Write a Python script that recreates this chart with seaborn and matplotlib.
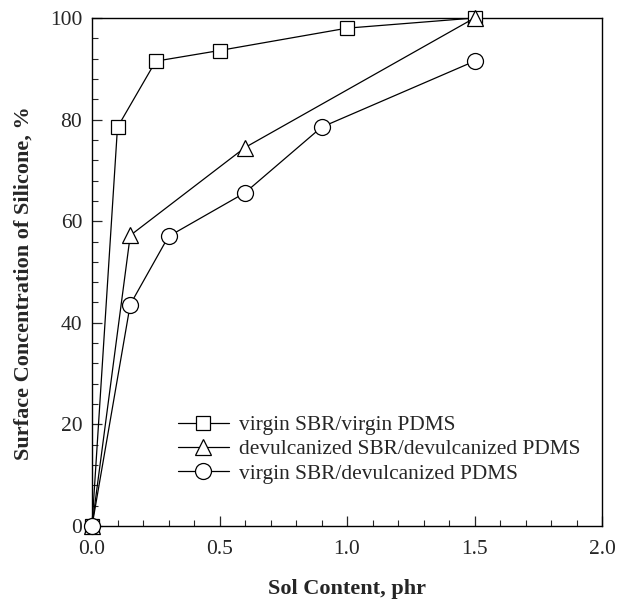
import numpy as np
import pandas as pd
import matplotlib
matplotlib.use("Agg")
import matplotlib.pyplot as plt
import seaborn as sns
from matplotlib.ticker import MultipleLocator

# data
sol_virgin = [0.0, 0.1, 0.25, 0.5, 1.0, 1.5]
conc_virgin = [0.0, 78.5, 91.5, 93.6, 98.0, 100.0]

sol_devul = [0.0, 0.15, 0.6, 1.5]
conc_devul = [0.0, 57.2, 74.5, 100.0]

sol_mixed = [0.0, 0.15, 0.3, 0.6, 0.9, 1.5]
conc_mixed = [0.0, 43.6, 57.0, 65.6, 78.5, 91.5]

labels = ["virgin SBR/virgin PDMS",
          "devulcanized SBR/devulcanized PDMS",
          "virgin SBR/devulcanized PDMS"]

sns.set_style("ticks")
plt.rcParams['font.family'] = ['Liberation Serif', 'DejaVu Serif']

fig, ax = plt.subplots(figsize=(6.17, 5.99), dpi=100)
fig.subplots_adjust(left=92/617, right=602/617, top=1-18/599, bottom=1-526/599)

series = [(sol_virgin, conc_virgin, 's', 9.5),
          (sol_devul, conc_devul, '^', 11),
          (sol_mixed, conc_mixed, 'o', 11.5)]
for (xs, ys, mk, ms), lab in zip(series, labels):
    df = pd.DataFrame({"sol": xs, "conc": ys})
    sns.lineplot(data=df, x="sol", y="conc", ax=ax, color="black", lw=0.9,
                 marker=mk, markersize=ms, markerfacecolor="white",
                 markeredgecolor="black", markeredgewidth=0.9,
                 label=lab, clip_on=False, zorder=3)

ax.set_xlim(0, 2.0)
ax.set_ylim(0, 100)
ax.xaxis.set_major_locator(MultipleLocator(0.5))
ax.xaxis.set_minor_locator(MultipleLocator(0.1))
ax.yaxis.set_major_locator(MultipleLocator(20))
ax.yaxis.set_minor_locator(MultipleLocator(4))
ax.xaxis.set_major_formatter(matplotlib.ticker.FormatStrFormatter('%.1f'))
ax.tick_params(which='major', direction='in', length=7, width=0.9, labelsize=15.5,
               top=False, right=False)
ax.tick_params(axis='x', which='major', pad=10)
ax.tick_params(axis='y', which='major', pad=7)
ax.tick_params(which='minor', direction='in', length=4, width=0.8,
               top=False, right=False)
for sp in ax.spines.values():
    sp.set_visible(True)
    sp.set_linewidth(1.0)
    sp.set_color("black")

ax.set_xlabel("Sol Content, phr", fontsize=16, fontweight='bold')
ax.set_ylabel("Surface Concentration of Silicone, %", fontsize=16,
              fontweight='bold')
ax.xaxis.set_label_coords(0.5, -0.104)
ax.yaxis.set_label_coords(-0.114, 0.478)

ax.legend(loc='upper left', bbox_to_anchor=(0.13, 0.256), frameon=False,
          fontsize=15.4, handlelength=2.4, handletextpad=0.47, labelspacing=0.2)

plt.savefig("out.png", dpi=100)
